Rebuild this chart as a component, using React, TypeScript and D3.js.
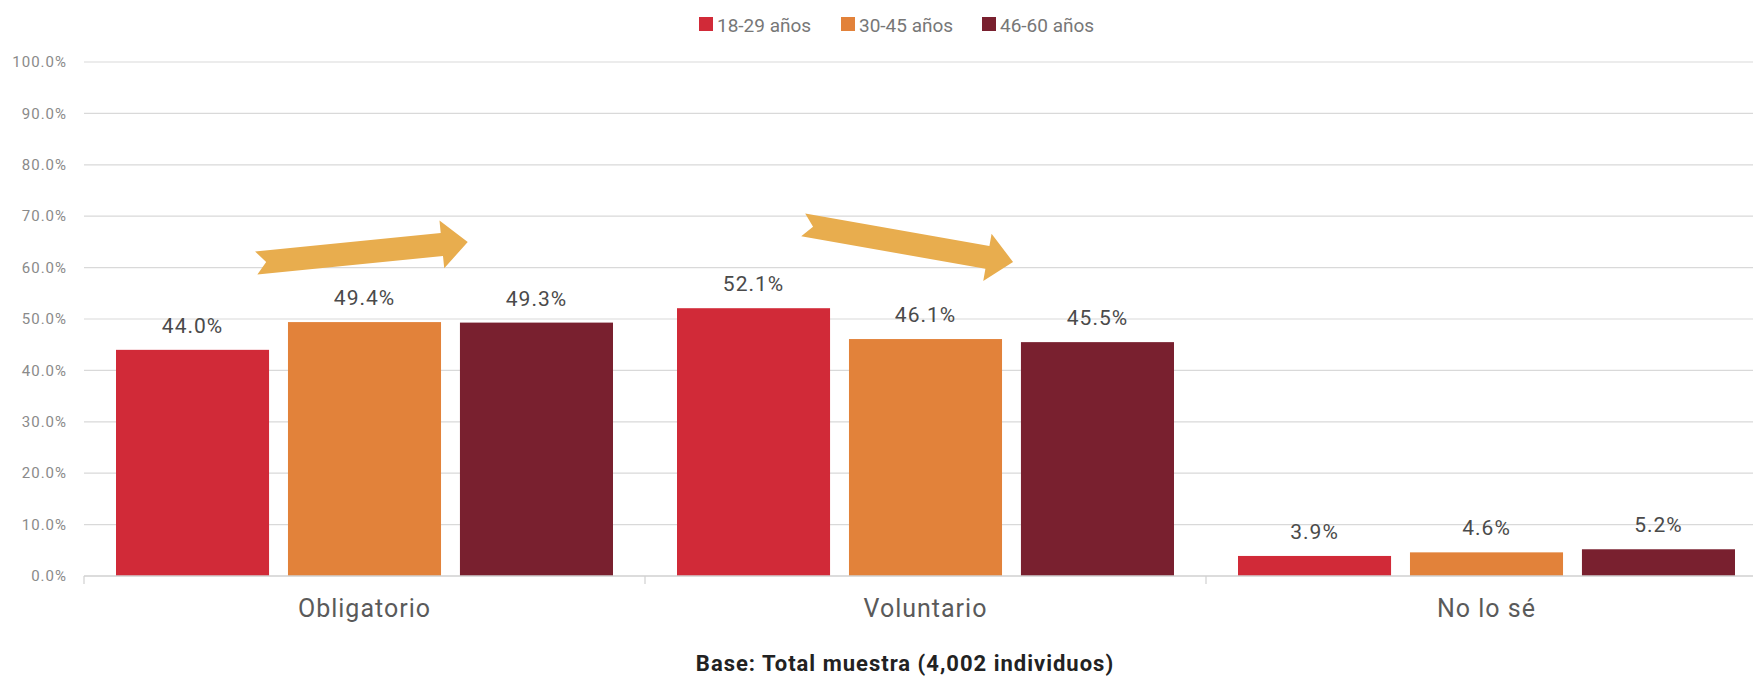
import React from "react";
import * as d3 from "d3";

const categories = ["Obligatorio", "Voluntario", "No lo sé"];
const seriesNames = ["18-29 años", "30-45 años", "46-60 años"];
const seriesColors = ["#D12A38", "#E2823A", "#79202F"];
const v1829 = [44.0, 52.1, 3.9];
const v3045 = [49.4, 46.1, 4.6];
const v4660 = [49.3, 45.5, 5.2];
const yTicks = [0, 10, 20, 30, 40, 50, 60, 70, 80, 90, 100];
// trend arrows: [category, startFrac, startValue, endFrac, endValue]
const arrows: [string, number, number, number, number][] = [
  ["Obligatorio", 0.307, 60.9, 0.684, 65.0],
  ["Voluntario", 0.282, 68.3, 0.656, 61.1],
];

const W = 1753;
const H = 676;
const M = { left: 84, right: -14, top: 62, bottom: 100 };

function arrowPath(x0: number, y0: number, x1: number, y1: number) {
  const shaftW = 23, headW = 48, headL = 26, notch = 10;
  const dx = x1 - x0, dy = y1 - y0;
  const L = Math.hypot(dx, dy);
  const ux = dx / L, uy = dy / L;
  const px = -uy, py = ux;
  const pt = (a: number, b: number) => [x0 + ux * a + px * b, y0 + uy * a + py * b];
  const pts = [
    pt(0, -shaftW / 2),
    pt(L - headL, -shaftW / 2),
    pt(L - headL, -headW / 2),
    pt(L, 0),
    pt(L - headL, headW / 2),
    pt(L - headL, shaftW / 2),
    pt(0, shaftW / 2),
    pt(notch, 0),
  ];
  return "M" + pts.map((p) => p.join(",")).join("L") + "Z";
}

export default function App() {
  const series = [v1829, v3045, v4660];
  const x0 = d3.scaleBand<string>().domain(categories).range([M.left, W - M.right]).paddingInner(0).paddingOuter(0);
  const bw = x0.bandwidth();
  const x1 = d3.scaleBand<number>().domain([0, 1, 2]).range([32, bw - 32]).paddingInner(0.11).paddingOuter(0);
  const y = d3.scaleLinear().domain([0, 100]).range([H - M.bottom, M.top]);
  const baseY = y(0);

  return (
    <svg width={W} height={H} style={{ position: "absolute", left: 0, top: 0, fontFamily: "Roboto, sans-serif" }}>
      <rect width={W} height={H} fill="#fff" />
      {/* gridlines */}
      {yTicks.map((t) => (
        <g key={t}>
          {t > 0 && <line x1={M.left} x2={W} y1={y(t)} y2={y(t)} stroke="#d9d9d9" strokeWidth={1.2} />}
          <text x={67} y={y(t)} dy="0.35em" textAnchor="end" fontSize={15} letterSpacing={1} fill="#8a8a8a">
            {d3.format(".1f")(t) + "%"}
          </text>
        </g>
      ))}
      {/* bars */}
      {categories.map((c, ci) => (
        <g key={c} transform={`translate(${x0(c)},0)`}>
          {series.map((s, si) => (
            <g key={si}>
              <rect
                x={x1(si)}
                y={y(s[ci])}
                width={x1.bandwidth()}
                height={baseY - y(s[ci])}
                fill={seriesColors[si]}
              />
              <text
                x={(x1(si) as number) + x1.bandwidth() / 2}
                y={y(s[ci]) - 17}
                textAnchor="middle"
                fontSize={21}
                letterSpacing={1}
                fill="#4a4a4a"
              >
                {d3.format(".1f")(s[ci]) + "%"}
              </text>
            </g>
          ))}
        </g>
      ))}
      {/* x axis */}
      <line x1={M.left} x2={W} y1={baseY} y2={baseY} stroke="#d0d0d0" strokeWidth={1.5} />
      {categories.map((c) => (
        <g key={c}>
          <line x1={x0(c)} x2={x0(c)} y1={baseY} y2={baseY + 8} stroke="#d0d0d0" strokeWidth={1.2} />
          <text x={(x0(c) as number) + bw / 2} y={617} textAnchor="middle" fontSize={25} letterSpacing={1} fill="#5a5a5a">
            {c}
          </text>
        </g>
      ))}
      {/* arrows */}
      {arrows.map(([c, f0, v0, f1, v1], i) => (
        <path
          key={i}
          d={arrowPath((x0(c) as number) + f0 * bw, y(v0), (x0(c) as number) + f1 * bw, y(v1))}
          fill="#E8AD4E"
        />
      ))}
      {/* legend */}
      {(() => {
        const starts = [699, 841, 982];
        return seriesNames.map((n, i) => (
          <g key={n} transform={`translate(${starts[i]},0)`}>
            <rect x={0} y={17} width={14} height={14} fill={seriesColors[i]} />
            <text x={18} y={32} fontSize={19} fill="#777">
              {n}
            </text>
          </g>
        ));
      })()}
      <text x={905} y={671} textAnchor="middle" fontSize={22} letterSpacing={1} fontWeight="bold" fill="#222">
        Base: Total muestra (4,002 individuos)
      </text>
    </svg>
  );
}
